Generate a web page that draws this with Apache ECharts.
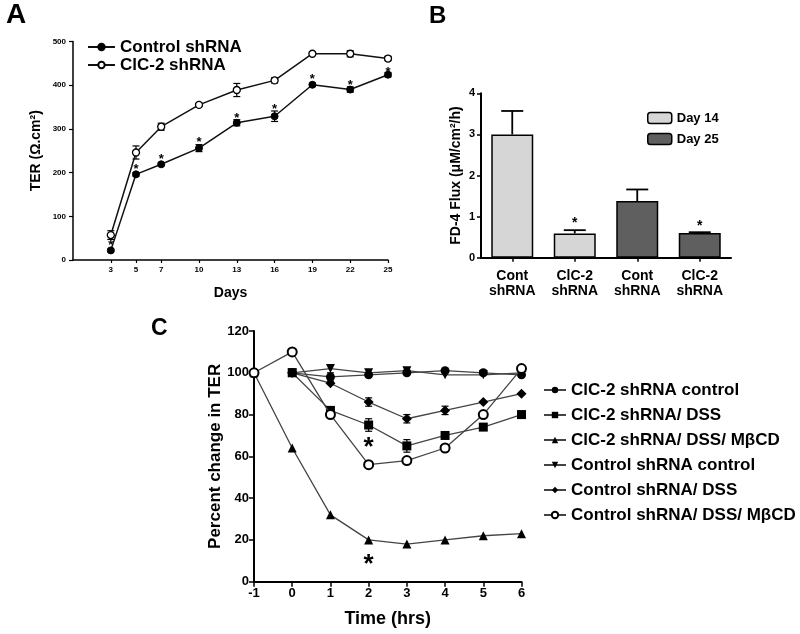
<!DOCTYPE html>
<html>
<head>
<meta charset="utf-8">
<script src="https://cdn.jsdelivr.net/npm/echarts@6/dist/echarts.min.js"></script>
<style>
html,body{margin:0;padding:0;background:#fff;}
#chart{width:800px;height:634px;}
</style>
</head>
<body>
<div id="chart"></div>
<script>
// ---------- Panel A data ----------
var daysA = [3, 5, 7, 10, 13, 16, 19, 22, 25];
var controlA = [22, 196, 219, 256, 314, 329, 401, 390, 424];
var controlErrA = [3, 4, 3, 8, 7, 12, 4, 6, 5];
var clc2A = [57, 246, 305, 355, 389, 411, 472, 472, 461];
var clc2ErrA = [10, 15, 8, 4, 15, 6, 3, 7, 5];
var starsA = [[3, 40], [5, 213], [7, 236], [10, 275], [13, 330], [16, 351], [19, 420], [22, 407], [25, 436]];

// ---------- Panel B data ----------
var catsB = ['Cont\nshRNA', 'ClC-2\nshRNA', 'Cont\nshRNA', 'ClC-2\nshRNA'];
var day14B = [3.0, 0.59, '-', '-'];
var day25B = ['-', '-', 1.38, 0.6];
var errB = [[0, 3.0, 0.57], [1, 0.59, 0.08], [2, 1.38, 0.28], [3, 0.6, 0.02]];
var starsB = [[1, 0.92], [3, 0.84]];

// ---------- Panel C data ----------
var clc2Ctrl = [[0, 100], [1, 98], [2, 99], [3, 100], [4, 101], [5, 100], [6, 99]];
var clc2DSS = [[0, 100], [1, 82], [2, 75], [3, 65], [4, 70], [5, 74], [6, 80]];
var clc2DSSM = [[-1, 100], [0, 64], [1, 32], [2, 20], [3, 18], [4, 20], [5, 22], [6, 23]];
var ctrlCtrl = [[0, 100], [1, 102], [2, 100], [3, 101], [4, 99], [5, 99], [6, 100]];
var ctrlDSS = [[0, 100], [1, 95], [2, 86], [3, 78], [4, 82], [5, 86], [6, 90]];
var ctrlDSSM = [[-1, 100], [0, 110], [1, 80], [2, 56], [3, 58], [4, 64], [5, 80], [6, 102]];
var errC = [[1, 98, 2], [2, 75, 3], [3, 65, 3], [2, 86, 2], [3, 78, 2], [4, 82, 2]];
var starsC = [[2, 67], [2, 11]];

var FONT = '"Liberation Sans", Arial, Helvetica, sans-serif';

function errRender(capW, upOnly, lw) {
  return function (params, api) {
    var x = api.value(0), y = api.value(1), e = api.value(2);
    var p = api.coord([x, y]);
    var hi = api.coord([x, y + e]);
    var lo = api.coord([x, upOnly ? y : y - e]);
    var h = capW / 2;
    var st = {stroke: '#000', lineWidth: lw, fill: null};
    var ch = [
      {type: 'line', shape: {x1: p[0], y1: hi[1], x2: p[0], y2: lo[1]}, style: st},
      {type: 'line', shape: {x1: p[0] - h, y1: hi[1], x2: p[0] + h, y2: hi[1]}, style: st}
    ];
    if (!upOnly) ch.push({type: 'line', shape: {x1: p[0] - h, y1: lo[1], x2: p[0] + h, y2: lo[1]}, style: st});
    return {type: 'group', children: ch};
  };
}
function starRender(size) {
  return function (params, api) {
    var p = api.coord([api.value(0), api.value(1)]);
    return {type: 'text', x: p[0], y: p[1] + size * 0.22,
      style: {text: '*', fill: '#000', font: 'bold ' + size + 'px ' + FONT, align: 'center', verticalAlign: 'middle'}};
  };
}

var chart = echarts.init(document.getElementById('chart'), null, {renderer: 'canvas'});

var axisLineBlack = function (w) { return {show: true, onZero: false, lineStyle: {color: '#000', width: w}}; };

var option = {
  animation: false,
  backgroundColor: '#fff',
  textStyle: {fontFamily: FONT, color: '#000'},
  graphic: [
    {type: 'text', left: 6, top: 1, style: {text: 'A', font: 'bold 28px ' + FONT, fill: '#000'}},
    {type: 'text', left: 429, top: 4, style: {text: 'B', font: 'bold 24px ' + FONT, fill: '#000'}},
    {type: 'text', left: 151, top: 317, style: {text: 'C', font: 'bold 23px ' + FONT, fill: '#000'}}
  ],
  grid: [
    {left: 73, top: 41.5, width: 315, height: 218.5, containLabel: false},
    {left: 481, top: 93.3, width: 250, height: 164.4, containLabel: false},
    {left: 254, top: 331, width: 267.5, height: 250.7, containLabel: false}
  ],
  legend: [
    {
      data: ['Control shRNA', 'ClC-2 shRNA'], orient: 'vertical', left: 82, top: 33,
      itemWidth: 27, itemHeight: 8, itemGap: 0, selectedMode: false,
      textStyle: {fontFamily: FONT, fontWeight: 'bold', fontSize: 17, color: '#000', lineHeight: 18}
    },
    {
      data: ['Day 14', 'Day 25'], orient: 'vertical', left: 642, top: 105,
      itemWidth: 24, itemHeight: 11, itemGap: 5, selectedMode: false,
      itemStyle: {borderColor: '#000', borderWidth: 1.5},
      textStyle: {fontFamily: FONT, fontWeight: 'bold', fontSize: 13, color: '#000', lineHeight: 16}
    },
    {
      data: ['ClC-2 shRNA control', 'ClC-2 shRNA/ DSS', 'ClC-2 shRNA/ DSS/ MβCD', 'Control shRNA control', 'Control shRNA/ DSS', 'Control shRNA/ DSS/ MβCD'],
      orient: 'vertical', left: 538, top: 376,
      itemWidth: 22, itemHeight: 8, itemGap: 7, selectedMode: false,
      textStyle: {fontFamily: FONT, fontWeight: 'bold', fontSize: 17, color: '#000', lineHeight: 18}
    }
  ],
  xAxis: [
    {
      gridIndex: 0, type: 'value', min: 0, max: 25,
      name: 'Days', nameLocation: 'middle', nameGap: 26,
      nameTextStyle: {fontFamily: FONT, fontWeight: 'bold', fontSize: 14, color: '#000'},
      axisLine: axisLineBlack(1.5), splitLine: {show: false},
      axisTick: {show: true, length: 3, lineStyle: {color: '#000', width: 1.2}, customValues: daysA},
      axisLabel: {fontFamily: FONT, fontWeight: 'bold', fontSize: 8, color: '#000', margin: 6, customValues: daysA}
    },
    {
      gridIndex: 1, type: 'category', data: catsB, boundaryGap: true,
      axisLine: axisLineBlack(2), splitLine: {show: false},
      axisTick: {show: true, alignWithLabel: true, length: 4, lineStyle: {color: '#000', width: 1.5}},
      axisLabel: {fontFamily: FONT, fontWeight: 'bold', fontSize: 14, color: '#000', margin: 11, lineHeight: 15}
    },
    {
      gridIndex: 2, type: 'value', min: -1, max: 6, interval: 1,
      name: 'Time (hrs)', nameLocation: 'middle', nameGap: 28,
      nameTextStyle: {fontFamily: FONT, fontWeight: 'bold', fontSize: 18, color: '#000'},
      axisLine: axisLineBlack(2), splitLine: {show: false},
      axisTick: {show: true, length: 5, lineStyle: {color: '#000', width: 1.5}},
      axisLabel: {fontFamily: FONT, fontWeight: 'bold', fontSize: 13, color: '#000', margin: 5}
    }
  ],
  yAxis: [
    {
      gridIndex: 0, type: 'value', min: 0, max: 500, interval: 100,
      name: 'TER (Ω.cm²)', nameLocation: 'middle', nameGap: 30, nameRotate: 90,
      nameTextStyle: {fontFamily: FONT, fontWeight: 'bold', fontSize: 14, color: '#000'},
      axisLine: axisLineBlack(1.5), splitLine: {show: false},
      axisTick: {show: true, length: 4, lineStyle: {color: '#000', width: 1.2}},
      axisLabel: {fontFamily: FONT, fontWeight: 'bold', fontSize: 8, color: '#000', margin: 7}
    },
    {
      gridIndex: 1, type: 'value', min: 0, max: 4, interval: 1,
      name: 'FD-4 Flux (μM/cm²/h)', nameLocation: 'middle', nameGap: 18, nameRotate: 90,
      nameTextStyle: {fontFamily: FONT, fontWeight: 'bold', fontSize: 14, color: '#000'},
      axisLine: axisLineBlack(2), splitLine: {show: false},
      axisTick: {show: true, length: 4, lineStyle: {color: '#000', width: 1.5}},
      axisLabel: {fontFamily: FONT, fontWeight: 'bold', fontSize: 11, color: '#000', margin: 6}
    },
    {
      gridIndex: 2, type: 'value', min: 0, max: 120, interval: 20,
      name: 'Percent change in TER', nameLocation: 'middle', nameGap: 30, nameRotate: 90,
      nameTextStyle: {fontFamily: FONT, fontWeight: 'bold', fontSize: 17, color: '#000'},
      axisLine: axisLineBlack(2), splitLine: {show: false},
      axisTick: {show: true, length: 5, lineStyle: {color: '#000', width: 1.5}},
      axisLabel: {fontFamily: FONT, fontWeight: 'bold', fontSize: 13, color: '#000', margin: 5}
    }
  ],
  series: [
    // ---- A ----
    {type: 'custom', xAxisIndex: 0, yAxisIndex: 0, renderItem: errRender(7, false, 1.2), z: 1,
      data: daysA.map(function (d, i) { return [d, clc2A[i], clc2ErrA[i]]; })},
    {type: 'custom', xAxisIndex: 0, yAxisIndex: 0, renderItem: errRender(7, false, 1.2), z: 1,
      data: daysA.map(function (d, i) { return [d, controlA[i], controlErrA[i]]; })},
    {name: 'Control shRNA', type: 'line', xAxisIndex: 0, yAxisIndex: 0, z: 3,
      data: daysA.map(function (d, i) { return [d, controlA[i]]; }),
      symbol: 'circle', symbolSize: 7, lineStyle: {color: '#111', width: 1.5},
      itemStyle: {color: '#000', borderColor: '#000', borderWidth: 1}},
    {name: 'ClC-2 shRNA', type: 'line', xAxisIndex: 0, yAxisIndex: 0, z: 3,
      data: daysA.map(function (d, i) { return [d, clc2A[i]]; }),
      symbol: 'circle', symbolSize: 7, lineStyle: {color: '#111', width: 1.5},
      itemStyle: {color: '#fff', borderColor: '#000', borderWidth: 1.3}},
    {type: 'custom', xAxisIndex: 0, yAxisIndex: 0, renderItem: starRender(13), z: 4, data: starsA},
    // ---- B ----
    {name: 'Day 14', type: 'bar', xAxisIndex: 1, yAxisIndex: 1, data: day14B, barWidth: 42, barGap: '-100%',
      itemStyle: {color: '#d6d6d6', borderColor: '#000', borderWidth: 1.5}},
    {name: 'Day 25', type: 'bar', xAxisIndex: 1, yAxisIndex: 1, data: day25B, barWidth: 42, barGap: '-100%',
      itemStyle: {color: '#5f5f5f', borderColor: '#000', borderWidth: 1.5}},
    {type: 'custom', xAxisIndex: 1, yAxisIndex: 1, renderItem: errRender(22, true, 1.8), z: 3, data: errB},
    {type: 'custom', xAxisIndex: 1, yAxisIndex: 1, renderItem: starRender(14), z: 4, data: starsB},
    // ---- C ----
    {type: 'custom', xAxisIndex: 2, yAxisIndex: 2, renderItem: errRender(7, false, 1.2), z: 1, data: errC},
    {name: 'ClC-2 shRNA control', type: 'line', xAxisIndex: 2, yAxisIndex: 2, data: clc2Ctrl, z: 3,
      symbol: 'circle', symbolSize: 9, lineStyle: {color: '#444', width: 1.3}, itemStyle: {color: '#000'}},
    {name: 'ClC-2 shRNA/ DSS', type: 'line', xAxisIndex: 2, yAxisIndex: 2, data: clc2DSS, z: 3,
      symbol: 'rect', symbolSize: 9, lineStyle: {color: '#444', width: 1.3}, itemStyle: {color: '#000'}},
    {name: 'ClC-2 shRNA/ DSS/ MβCD', type: 'line', xAxisIndex: 2, yAxisIndex: 2, data: clc2DSSM, z: 3,
      symbol: 'triangle', symbolSize: 9, lineStyle: {color: '#444', width: 1.3}, itemStyle: {color: '#000'}},
    {name: 'Control shRNA control', type: 'line', xAxisIndex: 2, yAxisIndex: 2, data: ctrlCtrl, z: 3,
      symbol: 'path://M0,0L10,0L5,9Z', symbolSize: 9, lineStyle: {color: '#444', width: 1.3}, itemStyle: {color: '#000'}},
    {name: 'Control shRNA/ DSS', type: 'line', xAxisIndex: 2, yAxisIndex: 2, data: ctrlDSS, z: 3,
      symbol: 'diamond', symbolSize: 10, lineStyle: {color: '#444', width: 1.3}, itemStyle: {color: '#000'}},
    {name: 'Control shRNA/ DSS/ MβCD', type: 'line', xAxisIndex: 2, yAxisIndex: 2, data: ctrlDSSM, z: 4,
      symbol: 'circle', symbolSize: 9, lineStyle: {color: '#444', width: 1.3},
      itemStyle: {color: '#fff', borderColor: '#000', borderWidth: 2}},
    {type: 'custom', xAxisIndex: 2, yAxisIndex: 2, renderItem: starRender(26), z: 5, data: starsC}
  ]
};
chart.setOption(option);
</script>
</body>
</html>
